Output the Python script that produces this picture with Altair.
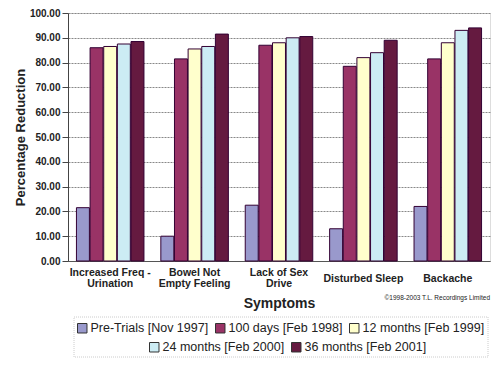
import json
import altair as alt
import pandas as pd

categories = ["Increased Freq - Urination", "Bowel Not Empty Feeling",
              "Lack of Sex Drive", "Disturbed Sleep", "Backache"]
category_lines = [["Increased Freq -", "Urination"], ["Bowel Not", "Empty Feeling"],
                  ["Lack of Sex", "Drive"], ["Disturbed Sleep"], ["Backache"]]
series = ["Pre-Trials [Nov 1997]", "100 days [Feb 1998]", "12 months [Feb 1999]",
          "24 months [Feb 2000]", "36 months [Feb 2001]"]
colors = ["#9999cc", "#993366", "#ffffcc", "#ccecf4", "#651a40"]

pre_trials = [21.5, 10.0, 22.5, 13.0, 22.0]
days_100 = [86.0, 81.5, 87.0, 78.5, 81.5]
months_12 = [86.5, 85.5, 88.0, 82.0, 88.0]
months_24 = [87.5, 86.5, 90.0, 84.0, 93.0]
months_36 = [88.5, 91.5, 90.5, 89.0, 94.0]

copyright_text = "©1998-2003 T.L. Recordings Limited"

values_by_series = [pre_trials, days_100, months_12, months_24, months_36]
rows = []
for s, vals in zip(series, values_by_series):
    for c, v in zip(categories, vals):
        rows.append({"symptom": c, "series": s, "value": v})
df = pd.DataFrame(rows)

label_map = json.dumps(dict(zip(categories, category_lines)))
single_line = json.dumps([c for c, l in zip(categories, category_lines) if len(l) == 1])

W, H = 422, 248
FONT = "Liberation Sans"
TXT = "#222222"

bars = alt.Chart(df).mark_bar(stroke="#330033", strokeWidth=1).encode(
    x=alt.X("symptom:N", sort=categories,
            scale=alt.Scale(paddingInner=0.2, paddingOuter=0.1),
            axis=alt.Axis(title="Symptoms", labelAngle=0, ticks=False,
                          labelExpr=f"{label_map}[datum.label]",
                          labelFont=FONT, labelFontWeight="bold", labelFontSize=10.5,
                          labelColor=TXT, labelLineHeight=11,
                          labelPadding={"condition": {"test": f"indexof({single_line}, datum.value) >= 0",
                                                      "value": 12},
                                        "value": 6},
                          titleFont=FONT, titleFontWeight="bold", titleFontSize=14,
                          titleColor=TXT, titlePadding=8,
                          domainColor="#555", domainWidth=1)),
    xOffset=alt.XOffset("series:N", sort=series,
                        scale=alt.Scale(paddingInner=0.05)),
    y=alt.Y("value:Q", scale=alt.Scale(domain=[0, 100]),
            axis=alt.Axis(title="Percentage Reduction", format=".2f",
                          values=list(range(0, 101, 10)),
                          labelFont=FONT, labelFontWeight="bold", labelFontSize=10,
                          labelColor=TXT, labelPadding=2, tickSize=6,
                          tickColor="#444", domainColor="#444",
                          titleFont=FONT, titleFontWeight="bold", titleFontSize=13,
                          titleColor=TXT, titlePadding=2,
                          gridColor="#888", gridDash=[2, 1], gridWidth=1)),
    color=alt.Color("series:N", sort=series,
                    scale=alt.Scale(domain=series, range=colors), legend=None),
)

def legend_layer(names, cols, lx, ly):
    return alt.Chart(df).transform_filter(
        alt.FieldOneOfPredicate(field="series", oneOf=names)
    ).mark_square(opacity=0, size=1).encode(
        color=alt.Color("series:N", sort=names,
                        scale=alt.Scale(domain=names, range=cols),
                        legend=alt.Legend(title=None, orient="none", legendX=lx, legendY=ly,
                                          direction="horizontal", symbolType="square",
                                          symbolSize=90, symbolOpacity=1,
                                          symbolStrokeColor="#333", symbolStrokeWidth=1,
                                          labelFont=FONT, labelFontSize=12.5,
                                          labelColor=TXT, columnPadding=4,
                                          labelOffset=2, labelLimit=300))
    )

leg1 = legend_layer(series[:3], colors[:3], 8, 309)
leg2 = legend_layer(series[3:], colors[3:], 80, 328)

box = alt.Chart(pd.DataFrame({"k": [0]})).mark_rect(
    fill=None, stroke="#cccccc", strokeDash=[1, 1], strokeWidth=1
).encode(x=alt.value(6), x2=alt.value(420), y=alt.value(304), y2=alt.value(344))

copy = alt.Chart(pd.DataFrame({"t": [copyright_text]})).mark_text(
    align="right", baseline="middle", font=FONT, fontSize=6.5, color=TXT
).encode(text="t:N", x=alt.value(W), y=alt.value(285))

chart = alt.layer(bars, leg1, leg2, box, copy).resolve_scale(
    color="independent"
).properties(
    width=W, height=H,
    autosize=alt.AutoSizeParams(type="none"),
    padding={"left": 60, "top": 5, "right": 2, "bottom": 118},
).configure_view(stroke="#666", strokeWidth=1).configure(background="white")

chart.save("out.html", embed_options={"renderer": "svg", "actions": False})
